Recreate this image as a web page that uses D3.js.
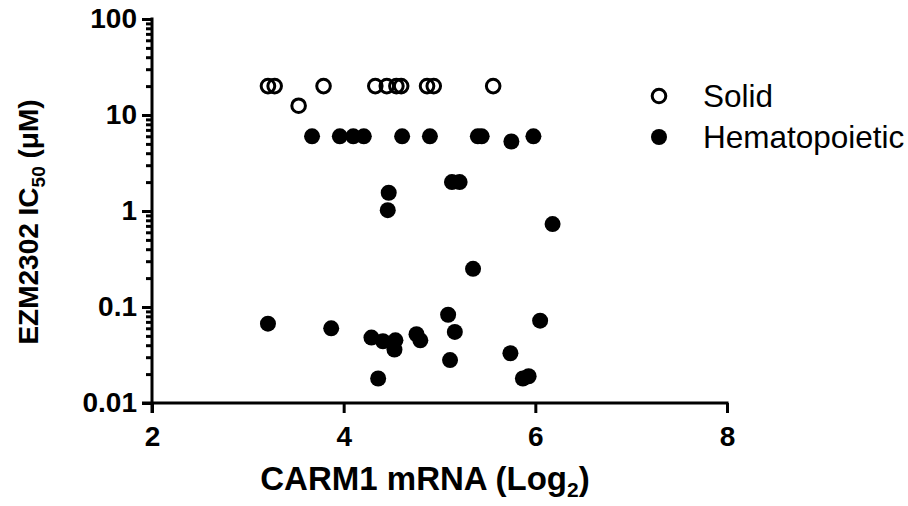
<!DOCTYPE html>
<html>
<head>
<meta charset="utf-8">
<script src="https://cdn.jsdelivr.net/npm/d3@7"></script>
<style>
  body { margin: 0; background: #fff; }
  svg text { font-family: "Liberation Sans", Arial, sans-serif; fill: #000; }
  .tick text { font-weight: bold; font-size: 28px; }
</style>
</head>
<body>
<div id="chart"></div>
<script>
// CARM1 mRNA (log2) vs EZM2302 IC50 (uM)
var solidX = [3.21, 3.28, 3.53, 3.79, 4.33, 4.45, 4.55, 4.60, 4.87, 4.94, 5.56];
var solidY = [20, 20, 12.5, 20, 20, 20, 20, 20, 20, 20, 20];

var hemeX = [3.67, 3.96, 4.10, 4.21, 4.61, 4.90, 5.40, 5.44, 5.75, 5.98,
             4.47, 4.46, 5.13, 5.21, 6.18, 5.35,
             3.21, 3.87, 4.29, 4.41, 4.54, 4.53, 4.36, 4.76, 4.80, 5.09,
             5.16, 5.11, 6.05, 5.74, 5.87, 5.93];
var hemeY = [6, 6, 6, 6, 6, 6, 6, 6, 5.3, 6,
             1.55, 1.02, 2, 2, 0.73, 0.25,
             0.067, 0.06, 0.048, 0.044, 0.045, 0.036, 0.018, 0.052, 0.045, 0.083,
             0.055, 0.028, 0.072, 0.033, 0.018, 0.019];

var xTicks = [2, 4, 6, 8];
var yTicks = [0.01, 0.1, 1, 10, 100];
var yTickLabels = ["0.01", "0.1", "1", "10", "100"];
var legendLabels = ["Solid", "Hematopoietic"];

var width = 908, height = 506;
var svg = d3.select("#chart").append("svg")
    .attr("width", width).attr("height", height);

var x = d3.scaleLinear().domain([2, 8]).range([152, 727]);
var y = d3.scaleLog().domain([0.01, 100]).range([403, 19]);

// minor ticks on the log axis
var minor = [];
[0.01, 0.1, 1, 10].forEach(function(d) {
    for (var k = 2; k <= 9; k++) minor.push(d * k);
});

var yMinor = svg.append("g").attr("transform", "translate(" + x(2) + ",0)")
    .call(d3.axisLeft(y).tickValues(minor).tickSize(6).tickFormat(""));
var yAxis = svg.append("g").attr("transform", "translate(" + x(2) + ",0)")
    .call(d3.axisLeft(y).tickValues(yTicks).tickSize(10).tickPadding(5)
        .tickFormat(function(d, i) { return yTickLabels[i]; }));
var xAxis = svg.append("g").attr("transform", "translate(0," + y(0.01) + ")")
    .call(d3.axisBottom(x).tickValues(xTicks).tickSize(10).tickPadding(13)
        .tickFormat(d3.format("d")));

svg.selectAll(".domain").remove();
svg.selectAll(".tick line").attr("stroke", "#000").attr("stroke-width", 3);

// axis lines (each one runs past the corner like a tick)
svg.append("line")
    .attr("x1", x(2)).attr("x2", x(2))
    .attr("y1", y(100) - 1.5).attr("y2", y(0.01) + 10)
    .attr("stroke", "#000").attr("stroke-width", 3);
svg.append("line")
    .attr("x1", x(2) - 10).attr("x2", x(8) + 1.5)
    .attr("y1", y(0.01)).attr("y2", y(0.01))
    .attr("stroke", "#000").attr("stroke-width", 3);

// points
svg.append("g").selectAll("circle").data(hemeX).enter().append("circle")
    .attr("cx", function(d) { return x(d); })
    .attr("cy", function(d, i) { return y(hemeY[i]); })
    .attr("r", 8)
    .attr("fill", "#000");

svg.append("g").selectAll("circle").data(solidX).enter().append("circle")
    .attr("cx", function(d) { return x(d); })
    .attr("cy", function(d, i) { return y(solidY[i]); })
    .attr("r", 6.8)
    .attr("fill", "none")
    .attr("stroke", "#000")
    .attr("stroke-width", 3);

// axis titles
var xt = svg.append("text")
    .attr("x", 425).attr("y", 490)
    .attr("text-anchor", "middle")
    .attr("font-weight", "bold").attr("font-size", "33px");
xt.append("tspan").text("CARM1 mRNA (Log");
xt.append("tspan").attr("font-size", "21px").attr("dy", 7).text("2");
xt.append("tspan").attr("dy", -7).text(")");

var yt = svg.append("text")
    .attr("transform", "translate(38,222) rotate(-90)")
    .attr("text-anchor", "middle")
    .attr("font-weight", "bold").attr("font-size", "28px");
yt.append("tspan").text("EZM2302 IC");
yt.append("tspan").attr("font-size", "19px").attr("dy", 7).text("50");
yt.append("tspan").attr("dy", -7).text(" (\u03bcM)");

// legend
var leg = svg.append("g");
leg.append("circle").attr("cx", 659).attr("cy", 96).attr("r", 6.8)
    .attr("fill", "none").attr("stroke", "#000").attr("stroke-width", 3);
leg.append("circle").attr("cx", 659).attr("cy", 137).attr("r", 8).attr("fill", "#000");
leg.selectAll("text").data(legendLabels).enter().append("text")
    .attr("x", 703)
    .attr("y", function(d, i) { return 107 + i * 41; })
    .attr("font-size", "31.5px")
    .text(function(d) { return d; });
</script>
</body>
</html>
